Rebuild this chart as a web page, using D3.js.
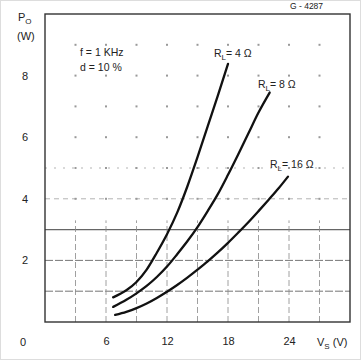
<!DOCTYPE html>
<html>
<head>
<meta charset="utf-8">
<script src="https://cdn.jsdelivr.net/npm/d3@7"></script>
<style>
  body { margin:0; background:#fff; }
  text { font-family:"Liberation Sans", Arial, sans-serif; fill:#222; }
</style>
</head>
<body>
<script>
// values
var xTicks=[6,12,18,24],
    yTicks=[2,4,6,8],
    xGrid=[3,6,9,12,15,18,21,24,27],
    yGrid=[1,2,3,4,5,6,7,8,9];

var rl4 =[[6.7,0.8],[8,1.03],[9,1.3],[10,1.7],[11,2.25],[12,2.85],[13,3.55],[14,4.4],[15,5.35],[16,6.35],[17,7.35],[18,8.38]],
    rl8 =[[6.7,0.49],[8,0.72],[9,0.93],[10,1.17],[11,1.46],[12,1.8],[13,2.2],[14,2.62],[15,3.08],[16,3.6],[17,4.15],[18,4.78],[19,5.44],[20,6.12],[21,6.8],[22.1,7.45]],
    rl16=[[6.9,0.23],[8,0.33],[9,0.45],[10,0.6],[11,0.78],[12,0.98],[13,1.2],[14,1.44],[15,1.7],[16,1.97],[17,2.26],[18,2.57],[19,2.9],[20,3.24],[21,3.6],[22,3.97],[23,4.35],[23.9,4.72]];

var W=361, H=360;
var svg=d3.select("body").append("svg").attr("width",W).attr("height",H);

var xs=d3.scaleLinear().domain([0,30]).range([45,350]),
    ys=d3.scaleLinear().domain([0,10]).range([322,14]);

// faint scan border
svg.append("rect").attr("x",0.5).attr("y",0.5).attr("width",W-1).attr("height",H-1)
   .attr("fill","none").attr("stroke","#ddd");

// grid: lower part drawn as dashes, upper part only dots at crossings
var g=svg.append("g");
g.selectAll("line.h").data(yGrid.filter(function(d){return d<=5;})).enter().append("line")
  .attr("x1",xs(0)).attr("x2",xs(30)).attr("y1",function(d){return ys(d);}).attr("y2",function(d){return ys(d);})
  .attr("stroke",function(d){return d<=3?"#666":"#aaa";})
  .attr("stroke-width",function(d){return d==3?1.1:0.9;})
  .attr("stroke-dasharray",function(d){return d==3?null:(d<=2?"8,2":(d==4?"5,4":"2,7"));});
g.selectAll("line.v").data(xGrid).enter().append("line")
  .attr("x1",function(d){return xs(d);}).attr("x2",function(d){return xs(d);})
  .attr("y1",ys(0)).attr("y2",ys(3.3))
  .attr("stroke","#888").attr("stroke-width",0.8).attr("stroke-dasharray","6,3");
var dots=[];
yGrid.filter(function(d){return d>=4;}).forEach(function(y){ xGrid.forEach(function(x){dots.push([x,y]);}); });
g.selectAll("rect.dot").data(dots).enter().append("rect")
  .attr("x",function(d){return xs(d[0])-1;}).attr("y",function(d){return ys(d[1])-1;})
  .attr("width",2).attr("height",2).attr("fill","#999");

// frame
svg.append("rect").attr("x",xs(0)).attr("y",ys(10)).attr("width",xs(30)-xs(0)).attr("height",ys(0)-ys(10))
   .attr("fill","none").attr("stroke","#333").attr("stroke-width",1.4);

// curves
var line=d3.line().x(function(d){return xs(d[0]);}).y(function(d){return ys(d[1]);}).curve(d3.curveMonotoneX);
svg.selectAll("path.c").data([rl4,rl8,rl16]).enter().append("path")
  .attr("d",line).attr("fill","none").attr("stroke","#111").attr("stroke-width",2.3).attr("stroke-linecap","round");

// axes (labels only)
var ax=svg.append("g").attr("transform","translate(0,"+ys(0)+")")
  .call(d3.axisBottom(xs).tickValues(xTicks).tickSize(0).tickPadding(15));
var ay=svg.append("g").attr("transform","translate("+xs(0)+",0)")
  .call(d3.axisLeft(ys).tickValues(yTicks).tickSize(0).tickPadding(17));
[ax,ay].forEach(function(a){
  a.select(".domain").remove();
  a.selectAll("text").style("font-size","11px").style("font-family","Liberation Sans, Arial, sans-serif").attr("fill","#222");
});

svg.append("text").attr("x",23).attr("y",346).attr("text-anchor","middle").style("font-size","11px").text("0");

// axis titles
var vs=svg.append("text").attr("x",317).attr("y",346).style("font-size","11px");
vs.append("tspan").text("V");
vs.append("tspan").attr("dy",3).style("font-size","8px").text("S");
vs.append("tspan").attr("dy",-3).text(" (V)");

var po=svg.append("text").attr("x",18).attr("y",21).style("font-size","11px");
po.append("tspan").text("P");
po.append("tspan").attr("dy",3).style("font-size","8px").text("O");
svg.append("text").attr("x",17).attr("y",40).style("font-size","11px").text("(W)");

// conditions
svg.append("text").attr("x",80).attr("y",56).style("font-size","10.5px").text("f  = 1 KHz");
svg.append("text").attr("x",80).attr("y",71).style("font-size","10.5px").text("d  = 10  %");

svg.append("text").attr("x",290).attr("y",9).style("font-size","8.5px").text("G - 4287");

// load labels
function rlLabel(x,y,ohm){
  var t=svg.append("text").attr("x",x).attr("y",y).style("font-size","10.5px");
  t.append("tspan").text("R");
  t.append("tspan").attr("dy",3).style("font-size","8px").text("L");
  t.append("tspan").attr("dy",-3).text("= "+ohm+" Ω");
}
rlLabel(214,57,4);
rlLabel(258,88,8);
rlLabel(270,168,16);
</script>
</body>
</html>
